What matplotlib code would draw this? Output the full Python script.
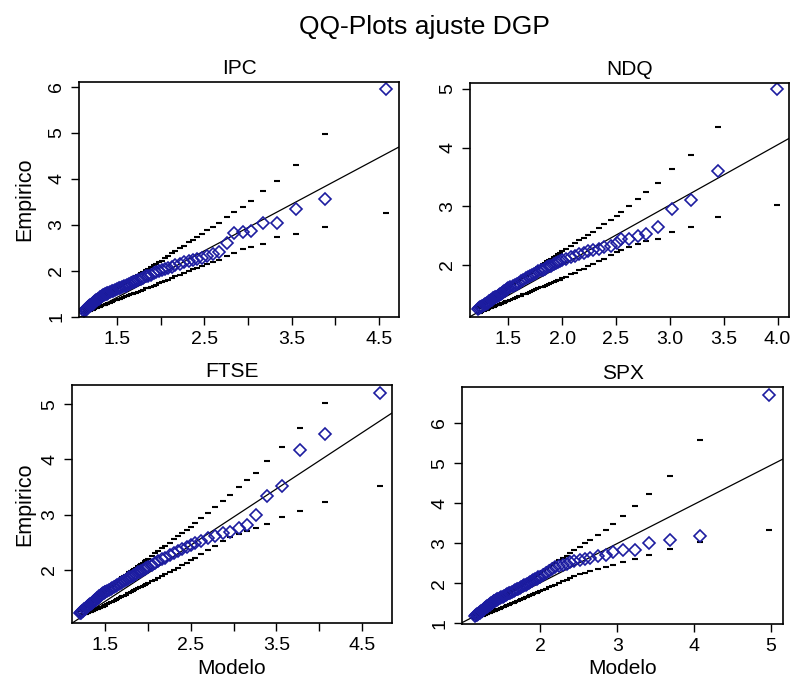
import matplotlib
matplotlib.use("Agg")
import matplotlib.pyplot as plt
from matplotlib.ticker import FixedLocator, FixedFormatter

plt.rcParams['font.family'] = ['Liberation Sans', 'DejaVu Sans']

# ---------------- data ----------------
panel_names = ["IPC", "NDQ", "FTSE", "SPX"]

# IPC: model quantiles, empirical quantiles, envelope bounds
ipc_model = [1.12, 1.13, 1.14, 1.15, 1.16, 1.17, 1.18, 1.19, 1.20, 1.21, 1.22, 1.23, 1.24, 1.25,
             1.26, 1.27, 1.28, 1.29, 1.30, 1.31, 1.32, 1.33, 1.34, 1.35, 1.36, 1.37, 1.38, 1.39,
             1.40, 1.42, 1.44, 1.46, 1.48, 1.50, 1.52, 1.54, 1.56, 1.58, 1.60, 1.62, 1.64, 1.66,
             1.68, 1.70, 1.72, 1.74, 1.77, 1.80, 1.83, 1.86, 1.89, 1.92, 1.95, 1.98, 2.01, 2.05,
             2.09, 2.13, 2.17, 2.22, 2.27, 2.32, 2.37, 2.42, 2.47, 2.53, 2.60, 2.67,
             2.76, 2.84, 2.94, 3.03, 3.17, 3.33, 3.55, 3.88, 4.58]
ipc_emp = [1.13, 1.15, 1.16, 1.18, 1.20, 1.21, 1.23, 1.25, 1.26, 1.28, 1.29, 1.31, 1.33, 1.34,
           1.36, 1.37, 1.39, 1.40, 1.42, 1.43, 1.44, 1.46, 1.47, 1.48, 1.49, 1.50, 1.51, 1.52,
           1.52, 1.54, 1.56, 1.57, 1.59, 1.61, 1.62, 1.64, 1.65, 1.67, 1.68, 1.70, 1.72, 1.73,
           1.75, 1.77, 1.78, 1.80, 1.83, 1.85, 1.88, 1.90, 1.92, 1.95, 1.97, 1.99, 2.01, 2.04,
           2.06, 2.09, 2.12, 2.16, 2.19, 2.22, 2.24, 2.26, 2.28, 2.32, 2.36, 2.40,
           2.61, 2.82, 2.84, 2.86, 3.04, 3.05, 3.35, 3.57, 5.95]
ipc_lo = [1.09, 1.10, 1.10, 1.11, 1.12, 1.13, 1.13, 1.14, 1.15, 1.16, 1.16, 1.17, 1.18, 1.19,
          1.19, 1.20, 1.21, 1.21, 1.22, 1.23, 1.24, 1.25, 1.25, 1.26, 1.27, 1.28, 1.29, 1.29,
          1.30, 1.31, 1.33, 1.34, 1.36, 1.37, 1.39, 1.40, 1.42, 1.43, 1.45, 1.46, 1.48, 1.49,
          1.51, 1.52, 1.53, 1.55, 1.57, 1.59, 1.62, 1.64, 1.66, 1.68, 1.70, 1.73, 1.75, 1.78,
          1.81, 1.85, 1.88, 1.92, 1.96, 2.00, 2.04, 2.07, 2.11, 2.15, 2.19, 2.24,
          2.32, 2.38, 2.48, 2.53, 2.59, 2.73, 2.81, 2.95, 3.26]
ipc_hi = [1.17, 1.18, 1.20, 1.21, 1.22, 1.23, 1.25, 1.26, 1.27, 1.28, 1.30, 1.31, 1.32, 1.33,
          1.35, 1.36, 1.37, 1.38, 1.40, 1.41, 1.42, 1.43, 1.45, 1.46, 1.47, 1.48, 1.50, 1.51,
          1.52, 1.54, 1.57, 1.59, 1.61, 1.64, 1.66, 1.68, 1.70, 1.73, 1.75, 1.77, 1.80, 1.82,
          1.84, 1.87, 1.89, 1.91, 1.95, 1.98, 2.02, 2.05, 2.08, 2.12, 2.15, 2.19, 2.22, 2.27,
          2.32, 2.38, 2.43, 2.49, 2.55, 2.62, 2.68, 2.74, 2.80, 2.88, 2.96, 3.05,
          3.16, 3.27, 3.38, 3.52, 3.74, 3.96, 4.29, 4.97, 6.80]
ipc_line = (-0.092, 1.011)

# NDQ
ndq_model = [1.22, 1.23, 1.24, 1.25, 1.26, 1.27, 1.28, 1.29, 1.30, 1.31, 1.32, 1.33, 1.34, 1.35,
             1.36, 1.37, 1.38, 1.39, 1.40, 1.41, 1.42, 1.43, 1.44, 1.45, 1.46, 1.47, 1.48, 1.49,
             1.50, 1.52, 1.54, 1.56, 1.58, 1.60, 1.62, 1.64, 1.66, 1.68, 1.70, 1.72, 1.74, 1.76,
             1.78, 1.80, 1.82, 1.84, 1.86, 1.88, 1.90, 1.92, 1.94, 1.96, 1.98, 2.00, 2.04, 2.08,
             2.12, 2.16, 2.20, 2.24, 2.29, 2.34, 2.39, 2.45, 2.51,
             2.55, 2.62, 2.70, 2.78, 2.89, 3.02, 3.20, 3.45, 3.99]
ndq_emp = [1.25, 1.26, 1.28, 1.29, 1.30, 1.31, 1.33, 1.34, 1.35, 1.36, 1.38, 1.39, 1.40, 1.41,
           1.43, 1.44, 1.45, 1.46, 1.48, 1.49, 1.50, 1.51, 1.53, 1.54, 1.55, 1.56, 1.58, 1.59,
           1.60, 1.62, 1.64, 1.66, 1.68, 1.70, 1.73, 1.75, 1.77, 1.79, 1.81, 1.83, 1.85, 1.87,
           1.89, 1.91, 1.92, 1.94, 1.96, 1.98, 1.99, 2.01, 2.03, 2.05, 2.06, 2.08, 2.11, 2.13,
           2.16, 2.18, 2.21, 2.23, 2.26, 2.28, 2.30, 2.32, 2.37,
           2.45, 2.45, 2.50, 2.52, 2.64, 2.95, 3.10, 3.60, 4.99]
ndq_lo = [1.18, 1.19, 1.19, 1.20, 1.21, 1.22, 1.23, 1.23, 1.24, 1.25, 1.26, 1.26, 1.27, 1.28,
          1.29, 1.29, 1.30, 1.31, 1.32, 1.32, 1.33, 1.34, 1.35, 1.35, 1.36, 1.37, 1.38, 1.38,
          1.39, 1.41, 1.42, 1.44, 1.45, 1.47, 1.48, 1.50, 1.51, 1.53, 1.54, 1.56, 1.57, 1.59,
          1.60, 1.62, 1.63, 1.65, 1.66, 1.68, 1.69, 1.71, 1.72, 1.74, 1.75, 1.77, 1.80, 1.84,
          1.87, 1.91, 1.94, 1.98, 2.02, 2.07, 2.11, 2.17, 2.22,
          2.26, 2.31, 2.36, 2.41, 2.45, 2.56, 2.65, 2.82, 3.02]
ndq_hi = [1.27, 1.28, 1.30, 1.31, 1.32, 1.33, 1.35, 1.36, 1.37, 1.38, 1.40, 1.41, 1.42, 1.43,
          1.45, 1.46, 1.47, 1.48, 1.50, 1.51, 1.52, 1.53, 1.55, 1.56, 1.57, 1.58, 1.60, 1.61,
          1.62, 1.64, 1.67, 1.69, 1.72, 1.74, 1.77, 1.79, 1.81, 1.84, 1.86, 1.89, 1.91, 1.94,
          1.96, 1.98, 2.01, 2.03, 2.06, 2.08, 2.10, 2.13, 2.15, 2.18, 2.20, 2.23, 2.27, 2.32,
          2.37, 2.42, 2.46, 2.51, 2.57, 2.63, 2.69, 2.76, 2.83,
          2.90, 3.01, 3.13, 3.25, 3.40, 3.64, 3.875, 4.35, 5.80]
ndq_line = (-0.053, 1.025)

# FTSE
ftse_model = [1.20, 1.21, 1.22, 1.23, 1.24, 1.25, 1.26, 1.27, 1.28, 1.29, 1.30, 1.31, 1.32, 1.33,
              1.34, 1.35, 1.36, 1.37, 1.38, 1.39, 1.40, 1.41, 1.42, 1.43, 1.44, 1.45, 1.46, 1.47,
              1.48, 1.49, 1.50, 1.52, 1.54, 1.56, 1.58, 1.60, 1.62, 1.64, 1.66, 1.68, 1.70, 1.72,
              1.74, 1.76, 1.78, 1.80, 1.82, 1.84, 1.86, 1.88, 1.90, 1.92, 1.94, 1.96, 1.98, 2.00,
              2.04, 2.08, 2.12, 2.16, 2.20, 2.25, 2.30, 2.35, 2.40, 2.45, 2.50, 2.55, 2.62, 2.70,
              2.78, 2.87, 2.96, 3.06, 3.16, 3.26, 3.39, 3.56, 3.78, 4.07, 4.71]
ftse_emp = [1.21, 1.22, 1.24, 1.25, 1.26, 1.28, 1.29, 1.30, 1.32, 1.33, 1.34, 1.36, 1.37, 1.38,
            1.40, 1.41, 1.42, 1.44, 1.45, 1.46, 1.48, 1.49, 1.50, 1.52, 1.53, 1.54, 1.56, 1.57,
            1.58, 1.59, 1.60, 1.62, 1.64, 1.65, 1.67, 1.69, 1.71, 1.73, 1.75, 1.76, 1.78, 1.80,
            1.82, 1.84, 1.86, 1.87, 1.89, 1.91, 1.93, 1.95, 1.96, 1.98, 2.00, 2.01, 2.03, 2.05,
            2.08, 2.12, 2.15, 2.19, 2.22, 2.26, 2.30, 2.34, 2.38, 2.42, 2.45, 2.49, 2.53, 2.57,
            2.61, 2.66, 2.69, 2.76, 2.82, 3.00, 3.33, 3.51, 4.17, 4.46, 5.20]
ftse_lo = [1.16, 1.17, 1.17, 1.18, 1.19, 1.19, 1.20, 1.20, 1.21, 1.22, 1.22, 1.23, 1.24, 1.24,
           1.25, 1.25, 1.26, 1.27, 1.27, 1.28, 1.29, 1.29, 1.30, 1.30, 1.31, 1.32, 1.33, 1.33,
           1.34, 1.35, 1.36, 1.37, 1.39, 1.41, 1.42, 1.44, 1.45, 1.47, 1.49, 1.50, 1.52, 1.53,
           1.55, 1.57, 1.58, 1.60, 1.61, 1.63, 1.65, 1.66, 1.68, 1.69, 1.71, 1.73, 1.74, 1.76,
           1.79, 1.82, 1.85, 1.89, 1.92, 1.96, 2.00, 2.04, 2.08, 2.13, 2.18, 2.22, 2.29, 2.36,
           2.43, 2.52, 2.60, 2.65, 2.70, 2.76, 2.83, 2.95, 3.07, 3.23, 3.51]
ftse_hi = [1.25, 1.26, 1.28, 1.29, 1.30, 1.31, 1.33, 1.34, 1.35, 1.36, 1.38, 1.39, 1.40, 1.42,
           1.43, 1.44, 1.45, 1.47, 1.48, 1.49, 1.50, 1.52, 1.53, 1.54, 1.55, 1.57, 1.58, 1.59,
           1.61, 1.62, 1.63, 1.65, 1.68, 1.70, 1.72, 1.74, 1.77, 1.79, 1.81, 1.84, 1.86, 1.88,
           1.91, 1.93, 1.95, 1.97, 2.00, 2.02, 2.04, 2.07, 2.09, 2.11, 2.13, 2.16, 2.18, 2.20,
           2.25, 2.30, 2.34, 2.39, 2.43, 2.49, 2.55, 2.61, 2.66, 2.72, 2.78, 2.84, 2.93, 3.03,
           3.13, 3.24, 3.36, 3.50, 3.63, 3.75, 3.98, 4.22, 4.57, 5.03, 6.20]
ftse_line = (-0.10, 1.019)

# SPX
spx_model = [1.15, 1.16, 1.17, 1.18, 1.19, 1.20, 1.21, 1.22, 1.23, 1.24, 1.25, 1.26, 1.27, 1.28,
             1.29, 1.30, 1.31, 1.32, 1.33, 1.34, 1.35, 1.36, 1.37, 1.38, 1.39, 1.40, 1.41, 1.42,
             1.43, 1.44, 1.45, 1.47, 1.49, 1.51, 1.53, 1.55, 1.57, 1.59, 1.61, 1.63, 1.65, 1.67,
             1.69, 1.71, 1.73, 1.75, 1.77, 1.79, 1.81, 1.83, 1.85, 1.87, 1.89, 1.91, 1.93, 1.95,
             1.97, 1.99, 2.03, 2.07, 2.11, 2.15, 2.19, 2.24, 2.29, 2.34, 2.39, 2.44, 2.51, 2.58,
             2.65, 2.75, 2.85, 2.95, 3.07, 3.23, 3.41, 3.68, 4.08, 4.98]
spx_emp = [1.18, 1.20, 1.21, 1.23, 1.24, 1.26, 1.27, 1.29, 1.30, 1.32, 1.33, 1.35, 1.36, 1.38,
           1.40, 1.41, 1.43, 1.44, 1.46, 1.47, 1.49, 1.50, 1.52, 1.53, 1.55, 1.56, 1.57, 1.58,
           1.59, 1.60, 1.61, 1.63, 1.65, 1.67, 1.69, 1.71, 1.73, 1.75, 1.77, 1.79, 1.81, 1.83,
           1.85, 1.87, 1.89, 1.91, 1.93, 1.95, 1.97, 1.99, 2.01, 2.03, 2.06, 2.08, 2.10, 2.12,
           2.15, 2.17, 2.21, 2.26, 2.31, 2.36, 2.40, 2.43, 2.46, 2.49, 2.52, 2.55, 2.58, 2.60,
           2.63, 2.67, 2.71, 2.77, 2.82, 2.83, 3.01, 3.09, 3.18, 6.71]
spx_lo = [1.11, 1.12, 1.13, 1.13, 1.14, 1.15, 1.16, 1.17, 1.18, 1.18, 1.19, 1.20, 1.21, 1.22,
          1.23, 1.23, 1.24, 1.25, 1.26, 1.27, 1.28, 1.28, 1.29, 1.30, 1.31, 1.32, 1.32, 1.33,
          1.34, 1.35, 1.36, 1.37, 1.39, 1.41, 1.42, 1.44, 1.46, 1.47, 1.49, 1.51, 1.52, 1.54,
          1.55, 1.57, 1.59, 1.60, 1.62, 1.64, 1.65, 1.67, 1.69, 1.70, 1.72, 1.74, 1.75, 1.77,
          1.79, 1.80, 1.84, 1.87, 1.90, 1.94, 1.97, 2.01, 2.05, 2.09, 2.14, 2.18, 2.23, 2.26,
          2.30, 2.35, 2.40, 2.45, 2.52, 2.61, 2.70, 2.86, 3.04, 3.33]
spx_hi = [1.21, 1.22, 1.24, 1.25, 1.26, 1.27, 1.29, 1.30, 1.31, 1.32, 1.33, 1.35, 1.36, 1.37,
          1.38, 1.40, 1.41, 1.42, 1.43, 1.45, 1.46, 1.47, 1.48, 1.50, 1.51, 1.52, 1.53, 1.55,
          1.56, 1.57, 1.58, 1.61, 1.63, 1.66, 1.68, 1.71, 1.73, 1.76, 1.78, 1.81, 1.83, 1.86,
          1.88, 1.91, 1.93, 1.96, 1.98, 2.01, 2.03, 2.06, 2.08, 2.11, 2.13, 2.16, 2.18, 2.21,
          2.23, 2.26, 2.31, 2.35, 2.40, 2.45, 2.50, 2.57, 2.63, 2.69, 2.76, 2.82, 2.91, 3.00,
          3.09, 3.21, 3.34, 3.48, 3.69, 3.94, 4.23, 4.67, 5.57, 7.40]
spx_line = (0.06, 0.978)

# axis ranges and ticks
x_limits = [(1.065, 4.73), (1.144, 4.106), (1.11, 4.85), (0.98, 5.156)]
y_limits = [(1.0, 6.10), (1.114, 5.10), (1.034, 5.35), (0.985, 6.90)]
x_ticks = [[1.5, 2.0, 2.5, 3.0, 3.5, 4.0, 4.5],
           [1.5, 2.0, 2.5, 3.0, 3.5, 4.0],
           [1.5, 2.0, 2.5, 3.0, 3.5, 4.0, 4.5],
           [2, 3, 4, 5]]
x_ticklabels = [["1.5", "", "2.5", "", "3.5", "", "4.5"],
                ["1.5", "2.0", "2.5", "3.0", "3.5", "4.0"],
                ["1.5", "", "2.5", "", "3.5", "", "4.5"],
                ["2", "3", "4", "5"]]
y_ticks = [[1, 2, 3, 4, 5, 6], [2, 3, 4, 5], [2, 3, 4, 5], [1, 2, 3, 4, 5, 6]]

series = [
    (ipc_model, ipc_emp, ipc_lo, ipc_hi, ipc_line),
    (ndq_model, ndq_emp, ndq_lo, ndq_hi, ndq_line),
    (ftse_model, ftse_emp, ftse_lo, ftse_hi, ftse_line),
    (spx_model, spx_emp, spx_lo, spx_hi, spx_line),
]

# ---------------- layout (pixel boxes: left, top, right, bottom) ----------------
W, H = 791, 681
boxes = [(79, 82, 399, 317), (470, 83, 789, 317), (72, 385, 392, 623), (462, 387, 783, 624)]

fig = plt.figure(figsize=(W / 100, H / 100), dpi=100)
fig.patch.set_facecolor("white")

point_color = "#1c1ca0"

for i, (name, (mx, emp, lo, hi, (a, b))) in enumerate(zip(panel_names, series)):
    l, t, r, btm = boxes[i]
    ax = fig.add_axes([l / W, 1 - btm / H, (r - l) / W, (btm - t) / H])
    ax.set_xlim(*x_limits[i])
    ax.set_ylim(*y_limits[i])

    # simulation envelope (short horizontal dashes)
    ax.plot(mx, lo, linestyle="none", marker="_", ms=4.6, mew=1.5, color="black")
    ax.plot(mx, hi, linestyle="none", marker="_", ms=4.6, mew=1.5, color="black")

    # reference line
    x0, x1 = x_limits[i]
    ax.plot([x0, x1], [a + b * x0, a + b * x1], color="black", lw=0.9)

    # empirical vs model quantiles
    ax.plot(mx, emp, linestyle="none", marker="D", ms=5.8, mfc="none",
            mec=point_color, mew=1.2)

    ax.xaxis.set_major_locator(FixedLocator(x_ticks[i]))
    ax.xaxis.set_major_formatter(FixedFormatter(x_ticklabels[i]))
    ax.yaxis.set_major_locator(FixedLocator(y_ticks[i]))
    ax.set_yticklabels([str(v) for v in y_ticks[i]], rotation=90, va="center")
    ax.tick_params(direction="out", length=6, width=1.0, labelsize=14, colors="black")
    ax.tick_params(axis="x", pad=4)
    ax.tick_params(axis="y", pad=4)
    for s in ax.spines.values():
        s.set_linewidth(1.2)

    ax.set_title(name, fontsize=15, pad=6)

    if i in (0, 2):
        ax.set_ylabel("Empirico", fontsize=15.5)
        ax.yaxis.set_label_coords((25 - l) / (r - l), 0.5)
        ax.yaxis.label.set_va("center")
    if i in (2, 3):
        ax.set_xlabel("Modelo", fontsize=15)
        ax.xaxis.set_label_coords(0.5, -(669 - btm) / (btm - t))
        ax.xaxis.label.set_va("center")

fig.text(424 / W, 1 - 27 / H, "QQ-Plots ajuste DGP", ha="center", va="center", fontsize=19)

fig.savefig("out.png", dpi=100)
